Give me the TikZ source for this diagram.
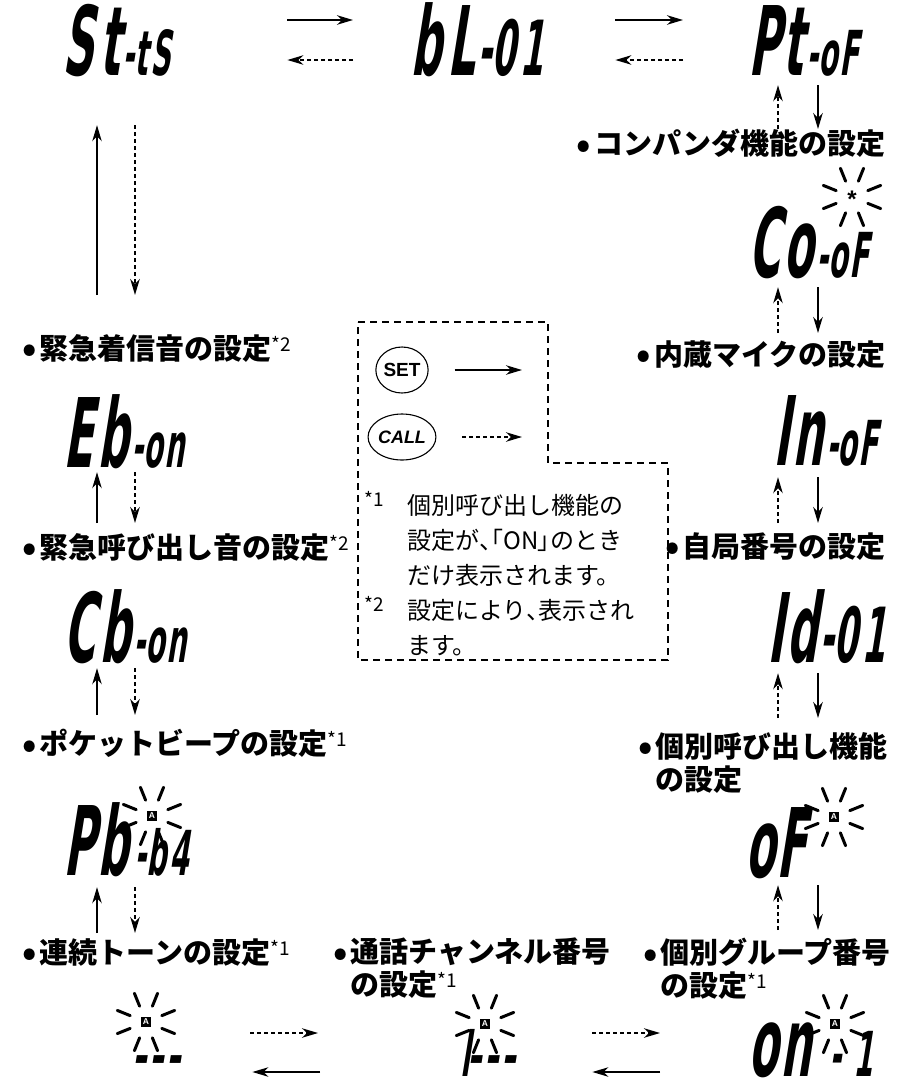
\documentclass[tikz,border=0pt]{standalone}
\usepackage{fontspec}
\usetikzlibrary{shapes.geometric,arrows.meta}
\newfontfamily\jp{Noto Sans CJK JP}
\newfontfamily\lcd{DejaVu Sans Condensed}[FakeStretch=0.5,FakeSlant=0.16]
\newfontfamily\btnfont{Liberation Sans}
\newcommand\lbig{\fontsize{96}{96}\selectfont}
\newcommand\lsm{\fontsize{62}{62}\selectfont}
\newcommand\lmid{\fontsize{76}{76}\selectfont}
\newcommand\dbox[2]{\makebox[#1][l]{#2}}
\newcommand\jsup[1]{{\mdseries\fontsize{19}{19}\selectfont\raisebox{8pt}{*#1}}}
\newcommand\bul{{\fontsize{36}{36}\selectfont\raisebox{-2.5pt}{•}}\hspace{3pt}}
\newcommand\palt[1]{{\addfontfeatures{RawFeature=+palt}#1}}
\newcommand\blinkrays[1]{\foreach \a in {22,68,112,158,202,248,292,338}{\draw[ray] (#1) ++(\a:17pt) -- ++(\a:14pt);}}
\newcommand\rpair[4]{%
  \draw[setar, shorten <=#3, shorten >=#4] (#1.south -| xRs) -- (#2.north -| xRs);
  \draw[callar, shorten <=#4, shorten >=#3] (#2.north -| xRd) -- (#1.south -| xRd);}
\newcommand\lpair[4]{%
  \draw[setar, shorten <=#4, shorten >=#3] (#2.north -| xLs) -- (#1.south -| xLs);
  \draw[callar, shorten <=#3, shorten >=#4] (#1.south -| xLd) -- (#2.north -| xLd);}
\begin{document}
\begin{tikzpicture}[x=1pt,y=-1pt,
  disp/.style={inner sep=0pt, anchor=base west, text height=70pt, text depth=0pt, font=\lcd\bfseries\lbig},
  lbl/.style={inner sep=0pt, anchor=north west, align=left, font=\jp\bfseries\fontsize{29}{33}\selectfont},
  note/.style={inner sep=0pt, anchor=north west, align=left, font=\jp\fontsize{24}{35}\selectfont},
  setar/.style={line width=1.6pt, -{Stealth[length=16pt,width=9.5pt,inset=5pt]}},
  callar/.style={setar, dash pattern=on 4pt off 3pt},
  btn/.style={draw, line width=1.1pt, ellipse, minimum width=50pt, minimum height=46pt, inner sep=0pt, font=\btnfont\bfseries\fontsize{19}{19}\selectfont},
  abox/.style={fill=black, text=white, inner sep=0pt, minimum size=10pt, font=\btnfont\bfseries\fontsize{8.5}{8.5}\selectfont},
  ray/.style={line width=3pt, line cap=round},
  boxline/.style={line width=1.3pt, dash pattern=on 7pt off 5pt}]
\useasboundingbox (0,0) rectangle (906,1080);
\fill[white] (0,0) rectangle (906,1080);

\coordinate (xRd) at (778,0);
\coordinate (xRs) at (818,0);
\coordinate (xLs) at (97,0);
\coordinate (xLd) at (135,0);

% displays
\node[disp] (St) at (62,75) {\dbox{135pt}{S\kern6pt t{\lsm\kern3pt -t\kern3pt S}}};
\node[disp] (bL) at (410,75) {\dbox{133pt}{b\kern6pt L{\lmid\kern3pt -0\kern4pt 1}}};
\node[disp] (Pt) at (748,75) {\dbox{117pt}{P\kern3pt t{\lsm\kern3pt -o\kern2pt F}}};
\node[disp] (Co) at (748,277) {\dbox{129pt}{C\kern4pt o{\lsm\kern3pt -o\kern2pt F}}};
\node[disp] (In) at (773,465) {\dbox{104pt}{I\kern3pt n{\lsm\kern3pt -o\kern2pt F}}};
\node[disp] (Id) at (767,662) {\dbox{112pt}{I\kern3pt d{\lmid\kern2pt -0\kern4pt 1}}};
\node[disp] (oF) at (745,877) {\dbox{75pt}{o\kern2pt F}};
\node[disp] (Eb) at (63,467) {\dbox{130pt}{E\kern5pt b{\lsm\kern3pt -o\kern2pt n}}};
\node[disp] (Cb) at (63,662) {\dbox{130pt}{C\kern5pt b{\lsm\kern3pt -o\kern2pt n}}};
\node[disp] (Pb) at (63,875) {\dbox{135pt}{P\kern3pt b{\lsm\kern6pt -b\kern3pt 4}}};
\node[disp] (d3) at (132,1076) {\dbox{57pt}{\lsm –\kern3pt –\kern3pt –}};
\node[disp] (ld) at (460,1076) {\dbox{66pt}{\lsm l\kern-2pt –\kern3pt –\kern3pt –}};
\node[disp] (onm) at (748,1076) {\dbox{137pt}{o\kern3pt n{\lsm\kern18pt -\kern12pt 1}}};

% blinking marks
\node[inner sep=0pt, font=\btnfont\bfseries\fontsize{24}{24}\selectfont] (aCo) at (852,199) {*};
\coordinate (cCo) at (852,197);
\blinkrays{cCo}
\node[abox] (aOF) at (834,817) {A}; \blinkrays{aOF}
\node[abox] (aPb) at (152,816) {A}; \blinkrays{aPb}
\node[abox] (aD3) at (146,1022) {A}; \blinkrays{aD3}
\node[abox] (aLd) at (485,1024) {A}; \blinkrays{aLd}
\node[abox] (aOn) at (835,1024) {A}; \blinkrays{aOn}

% labels
\node[lbl, anchor=north east] (lComp) at (886,129) {\bul コンパンダ機能の設定};
\node[lbl, anchor=north east] (lMic) at (886,340) {\bul 内蔵マイクの設定};
\node[lbl, anchor=north east] (lOwn) at (886,532) {\bul 自局番号の設定};
\node[lbl] (lInd) at (638,732) {\bul 個別呼び出し機能\\\phantom{\bul}の設定};
\node[lbl] (lGrp) at (643,938) {\bul 個別グループ番号\\\phantom{\bul}の設定\jsup{1}};
\node[lbl] (lCh) at (333,938) {\bul 通話チャンネル番号\\\phantom{\bul}の設定\jsup{1}};
\node[lbl] (lRen) at (22,938) {\bul 連続トーンの設定\jsup{1}};
\node[lbl] (lPoc) at (22,729) {\bul ポケットビープの設定\jsup{1}};
\node[lbl] (lEy) at (22,533) {\bul 緊急呼び出し音の設定\jsup{2}};
\node[lbl] (lEc) at (22,334) {\bul 緊急着信音の設定\jsup{2}};

% top row arrows
\draw[setar, shorten <=90pt, shorten >=57pt] ([yshift=20pt]St.east) -- ([yshift=20pt]bL.west);
\draw[callar, shorten <=57pt, shorten >=90pt] ([yshift=-20pt]bL.west) -- ([yshift=-20pt]St.east);
\draw[setar, shorten <=72pt, shorten >=65pt] ([yshift=20pt]bL.east) -- ([yshift=20pt]Pt.west);
\draw[callar, shorten <=65pt, shorten >=72pt] ([yshift=-20pt]Pt.west) -- ([yshift=-20pt]bL.east);

% bottom row arrows
\draw[callar, shorten <=61pt, shorten >=142pt] ([yshift=8pt]d3.east) -- ([yshift=8pt]ld.west);
\draw[setar, shorten <=140pt, shorten >=63pt] ([yshift=-31pt]ld.west) -- ([yshift=-31pt]d3.east);
\draw[callar, shorten <=66pt, shorten >=88pt] ([yshift=8pt]ld.east) -- ([yshift=8pt]onm.west);
\draw[setar, shorten <=88pt, shorten >=66pt] ([yshift=-31pt]onm.west) -- ([yshift=-31pt]ld.east);

% vertical pairs
\rpair{Pt}{lComp}{10pt}{0pt}
\rpair{Co}{lMic}{10pt}{7pt}
\rpair{In}{lOwn}{12pt}{9pt}
\rpair{Id}{lInd}{11pt}{14pt}
\rpair{oF}{lGrp}{8pt}{8pt}
\lpair{St}{lEc}{50pt}{39pt}
\lpair{Eb}{lEy}{5pt}{10pt}
\lpair{Cb}{lPoc}{6pt}{14pt}
\lpair{Pb}{lRen}{12pt}{5pt}

% legend box
\draw[boxline] (358,322) -- (548,322) -- (548,463) -- (668,463) -- (668,660) -- (358,660) -- cycle;
\node[btn] (set) at (402,370) {SET};
\node[btn, font=\btnfont\bfseries\itshape\fontsize{18}{18}\selectfont] (call) at (402,437) {CALL};
\coordinate (setend) at (522,370);
\coordinate (callend) at (522,437);
\draw[setar, shorten <=26pt] (set.east) -- (setend);
\draw[callar, shorten <=26pt] (call.east) -- (callend);
\node[note] (notes) at (364,491) {\makebox[43pt][l]{\jsup{1}}個別呼び出し機能の\\
\hspace*{43pt}設定が\palt{、「}ON\palt{」}のとき\\
\hspace*{43pt}だけ表示されます。\\
\makebox[43pt][l]{\jsup{2}}設定により\palt{、}表示され\\
\hspace*{43pt}ます。};
\end{tikzpicture}
\end{document}
